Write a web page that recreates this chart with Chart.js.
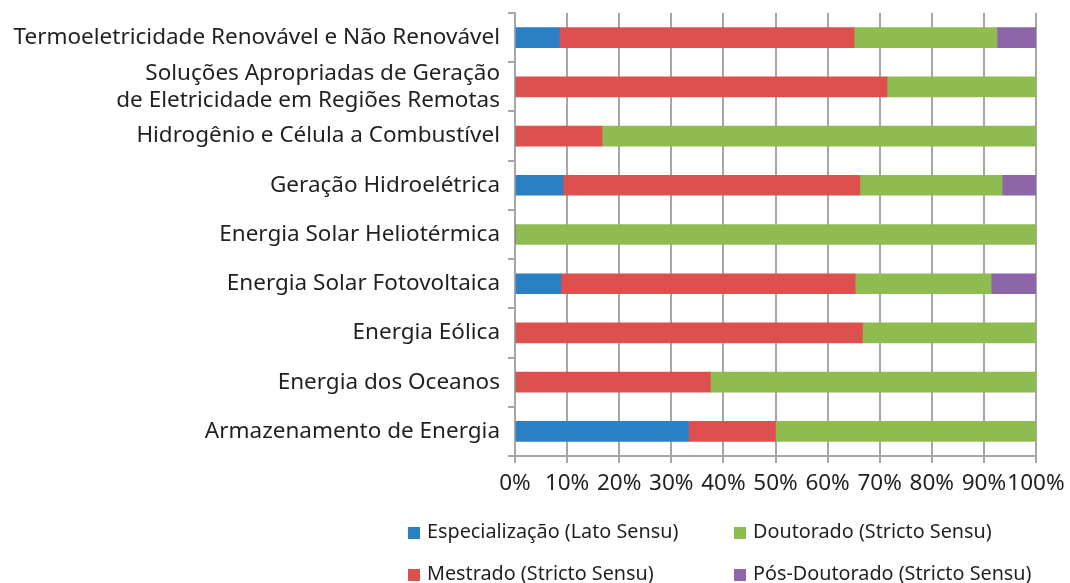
<!DOCTYPE html>
<html><head><meta charset="utf-8">
<script src="https://cdn.jsdelivr.net/npm/chart.js@4/dist/chart.umd.min.js"></script>
<style>
html,body{margin:0;padding:0;background:#fff;}
#wrap{position:relative;width:1070px;height:583px;}
canvas{position:absolute;left:0;top:0;}
.lg{position:absolute;font-family:"Noto Sans";font-size:19.8px;color:#231f20;white-space:nowrap;line-height:24px;}
.lg span.sq{display:inline-block;width:12px;height:12px;margin-right:7px;vertical-align:-1px;}
</style></head>
<body><div id="wrap"><canvas id="c" width="1070" height="583"></canvas><div id="legend"></div></div>
<script>
const categories = [
  "Termoeletricidade Renovável e Não Renovável",
  ["Soluções Apropriadas de Geração","de Eletricidade em Regiões Remotas"],
  "Hidrogênio e Célula a Combustível",
  "Geração Hidroelétrica",
  "Energia Solar Heliotérmica",
  "Energia Solar Fotovoltaica",
  "Energia Eólica",
  "Energia dos Oceanos",
  "Armazenamento de Energia"
];
const seriesNames = ["Especialização (Lato Sensu)","Mestrado (Stricto Sensu)","Doutorado (Stricto Sensu)","Pós-Doutorado (Stricto Sensu)"];
const especializacao = [8.5, 0, 0, 9.2, 0, 8.8, 0, 0, 33.3];
const mestrado       = [56.6, 71.4, 16.7, 57.0, 0, 56.5, 66.7, 37.5, 16.7];
const doutorado      = [27.4, 28.6, 83.3, 27.3, 100, 26.1, 33.3, 62.5, 50.0];
const posDoutorado   = [7.5, 0, 0, 6.5, 0, 8.6, 0, 0, 0];
const xTicks = ["0%","10%","20%","30%","40%","50%","60%","70%","80%","90%","100%"];
const colors = ["#2a80c2","#de504d","#8fbc51","#8c66a8"];

const seriesValues = [especializacao, mestrado, doutorado, posDoutorado];
const datasets = seriesNames.map((n,i)=>({label:n,data:seriesValues[i],backgroundColor:colors[i],borderWidth:0,barThickness:20}));

const grid = '#a6a6a6';
const font = {family:'"Noto Sans"', size:22.5};
new Chart(document.getElementById('c'), {
  type:'bar',
  data:{labels:categories, datasets},
  options:{
    indexAxis:'y', responsive:false, animation:false,
    layout:{padding:{left:0,top:13,right:34,bottom:0}},
    plugins:{legend:{display:false},tooltip:{enabled:false}},
    scales:{
      x:{stacked:true,min:0,max:100,
        ticks:{stepSize:10,color:'#231f20',font,padding:7,maxRotation:0,autoSkip:false,
          callback:(v,i)=>xTicks[i]},
        grid:{color:grid,lineWidth:2,drawTicks:true,tickLength:7,tickColor:grid},
        border:{color:grid,width:2},
        afterFit:s=>{s.height=583-456;s.paddingLeft=0;s.paddingRight=0;}
      },
      y:{stacked:true,
        ticks:{color:'#231f20',font,padding:8,autoSkip:false,lineHeight:1.1},
        grid:{offset:true,drawOnChartArea:false,drawTicks:true,tickLength:7,tickColor:grid,lineWidth:2},
        border:{color:grid,width:2},
        afterFit:s=>{s.width=515;s.paddingTop=0;s.paddingBottom=0;}
      }
    }
  }
});

const lg = document.getElementById('legend');
const pos = [[408,519],[408,561],[734,519],[734,561]];
seriesNames.forEach((n,i)=>{
  const d=document.createElement('div');d.className='lg';
  d.style.left=pos[i][0]+'px';d.style.top=pos[i][1]+'px';
  d.innerHTML='<span class="sq" style="background:'+colors[i]+'"></span>'+n;
  lg.appendChild(d);
});
</script></body></html>
